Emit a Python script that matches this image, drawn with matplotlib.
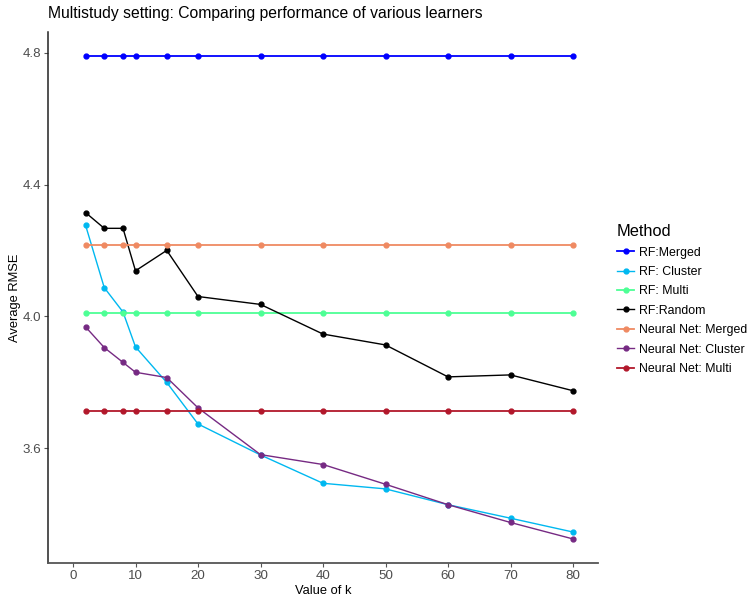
import matplotlib.pyplot as plt

k = [2, 5, 8, 10, 15, 20, 30, 40, 50, 60, 70, 80]

rf_merged = [4.79] * 12
rf_cluster = [4.277, 4.087, 4.013, 3.907, 3.799, 3.673, 3.579, 3.493, 3.476, 3.428, 3.387, 3.345]
rf_multi = [4.009] * 12
rf_random = [4.315, 4.267, 4.267, 4.138, 4.200, 4.060, 4.036, 3.946, 3.913, 3.816, 3.822, 3.774]
nn_merged = [4.217] * 12
nn_cluster = [3.968, 3.905, 3.860, 3.830, 3.814, 3.722, 3.580, 3.550, 3.490, 3.428, 3.374, 3.324]
nn_multi = [3.713] * 12

methods = ['RF:Merged', 'RF: Cluster', 'RF: Multi', 'RF:Random',
           'Neural Net: Merged', 'Neural Net: Cluster', 'Neural Net: Multi']
series = [rf_merged, rf_cluster, rf_multi, rf_random, nn_merged, nn_cluster, nn_multi]
colors = ['#0000FF', '#00B8F0', '#4DFF95', '#000000', '#EF8A62', '#762A83', '#B2182B']

plt.rcParams['font.family'] = ['Liberation Sans', 'DejaVu Sans']

fig = plt.figure(figsize=(7.49, 5.98), dpi=100)
ax = fig.add_axes([48 / 749, 35 / 598, 550 / 749, 531 / 598])

for name, vals, c in zip(methods, series, colors):
    lw = 1.3 if len(set(vals)) == 1 else 1.0
    ax.plot(k, vals, color=c, lw=lw, marker='o', markersize=3.5, label=name)

ax.set_xlim(-4, 84)
ax.set_ylim(3.251, 4.863)
ax.set_xticks([0, 10, 20, 30, 40, 50, 60, 70, 80])
ax.set_yticks([3.6, 4.0, 4.4, 4.8])
ax.tick_params(colors='#555555', labelcolor='#4d4d4d', labelsize=9.6, length=3, width=0.8, pad=2)
for s in ['top', 'right']:
    ax.spines[s].set_visible(False)
ax.spines['left'].set_linewidth(1.1)
ax.spines['left'].set_color('#222222')
ax.spines['bottom'].set_linewidth(1.3)
ax.spines['bottom'].set_color('#555555')

ax.set_xlabel('Value of k', fontsize=9.3, labelpad=2)
ax.set_ylabel('Average RMSE', fontsize=9.3, labelpad=1)
ax.set_title('Multistudy setting: Comparing performance of various learners',
             fontsize=11.3, loc='left', x=0, pad=10)

leg = fig.legend(loc='upper left', bbox_to_anchor=(606 / 749, 1 - 213 / 598),
                 title='Method', frameon=False, fontsize=8.9, title_fontsize=11.8,
                 handlelength=1.4, labelspacing=0.6, handletextpad=0.35)
leg._legend_box.align = 'left'

fig.savefig('out.png', dpi=100)
